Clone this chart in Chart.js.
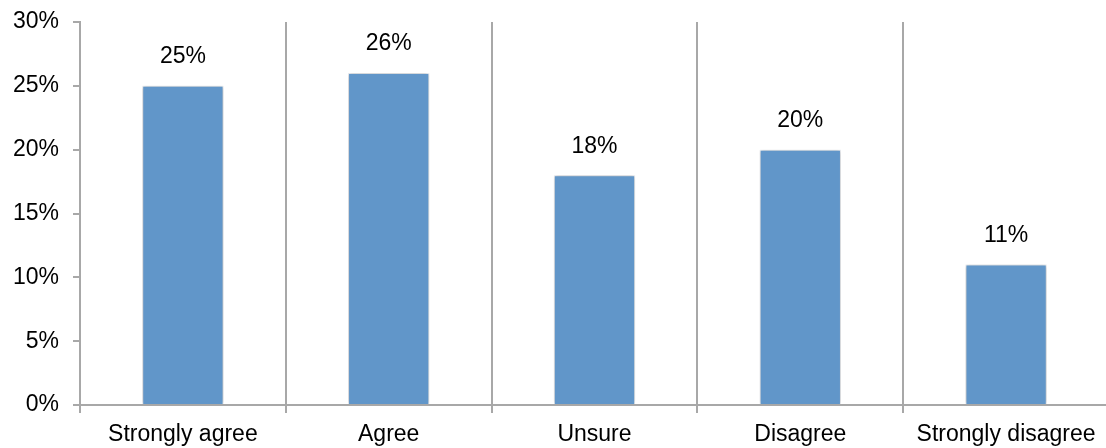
<!DOCTYPE html>
<html>
<head>
<meta charset="utf-8">
<script src="https://cdn.jsdelivr.net/npm/chart.js@4"></script>
<style>
    html, body { margin: 0; padding: 0; background: #fff; overflow: hidden; }
    #wrap { width: 1109px; height: 448px; }
</style>
</head>
<body>
<div id="wrap"><canvas id="surveyChart"></canvas></div>
<script>
const categories = ["Strongly agree", "Agree", "Unsure", "Disagree", "Strongly disagree"];
const percentages = [25, 26, 18, 20, 11];
const yTicks = [0, 5, 10, 15, 20, 25, 30];

const axisGray = "#A8A8A8";
const barBlue = "#6196C9";
const fontFamily = "'Liberation Sans', Arial, sans-serif";

// Etiquetas de valor encima de cada barra
const valueLabels = {
    id: "valueLabels",
    afterDatasetsDraw(chart) {
        const ctx = chart.ctx;
        const meta = chart.getDatasetMeta(0);
        ctx.save();
        ctx.font = "23px " + fontFamily;
        ctx.fillStyle = "#000";
        ctx.textAlign = "center";
        ctx.textBaseline = "middle";
        meta.data.forEach((bar, i) => {
            ctx.fillText(percentages[i] + "%", bar.x, bar.y - 29);
        });
        ctx.restore();
    }
};

// Sombra suave a los lados de las barras
const barShadow = {
    id: "barShadow",
    beforeDatasetDraw(chart) {
        const ctx = chart.ctx;
        ctx.save();
        ctx.shadowColor = "rgba(0,0,0,0.3)";
        ctx.shadowBlur = 4;
        ctx.shadowOffsetX = 0;
        ctx.shadowOffsetY = 0;
    },
    afterDatasetDraw(chart) {
        chart.ctx.restore();
    }
};

new Chart(document.getElementById("surveyChart").getContext("2d"), {
    type: "bar",
    data: {
        labels: categories,
        datasets: [{
            data: percentages,
            backgroundColor: barBlue,
            borderColor: "#F4F7FB",
            borderWidth: 1,
            barPercentage: 0.395,
            categoryPercentage: 1,
        }],
    },
    options: {
        responsive: true,
        maintainAspectRatio: false,
        animation: false,
        layout: { padding: { top: 22, right: 0, bottom: 0, left: 0 } },
        plugins: {
            legend: { display: false },
            tooltip: { enabled: false },
        },
        scales: {
            x: {
                offset: true,
                afterFit: (scale) => {
                    scale.height = 43;
                    scale.paddingLeft = 0;
                    scale.paddingRight = 0;
                },
                border: { color: axisGray, width: 2 },
                grid: {
                    offset: true,
                    color: axisGray,
                    lineWidth: 2,
                    tickLength: 8,
                    drawOnChartArea: true,
                },
                ticks: {
                    color: "#000",
                    padding: 8,
                    font: { family: fontFamily, size: 23 },
                },
            },
            y: {
                min: 0,
                max: 30,
                afterFit: (scale) => {
                    scale.width = 80;
                    scale.paddingTop = 0;
                    scale.paddingBottom = 0;
                },
                afterBuildTicks: (scale) => { scale.ticks = yTicks.map(v => ({ value: v })); },
                border: { color: axisGray, width: 2 },
                grid: {
                    drawOnChartArea: false,
                    color: axisGray,
                    lineWidth: 2,
                    tickLength: 7,
                },
                ticks: {
                    color: "#000",
                    padding: 14,
                    font: { family: fontFamily, size: 23 },
                    callback: (v) => v + "%",
                },
            },
        },
    },
    plugins: [barShadow, valueLabels],
});
</script>
</body>
</html>
